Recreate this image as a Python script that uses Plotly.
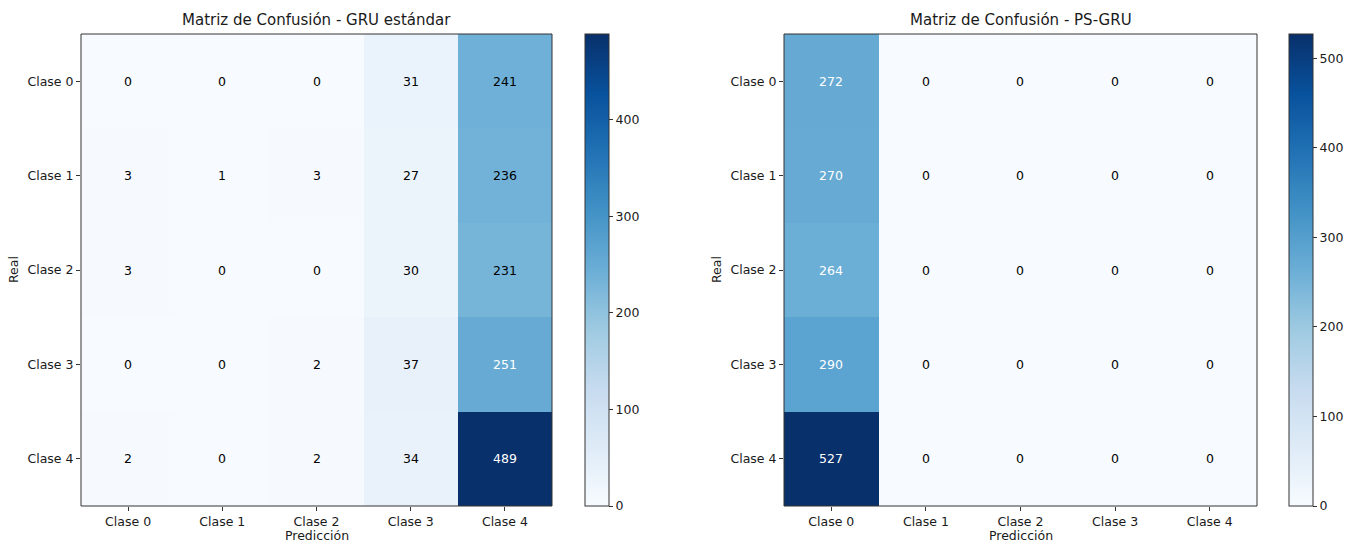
import plotly.graph_objects as go

# Class labels shared by both matrices
clases = ["Clase 0", "Clase 1", "Clase 2", "Clase 3", "Clase 4"]

# Confusion matrix: standard GRU (rows = real, cols = predicted)
cm_gru = [
    [0, 0, 0, 31, 241],
    [3, 1, 3, 27, 236],
    [3, 0, 0, 30, 231],
    [0, 0, 2, 37, 251],
    [2, 0, 2, 34, 489],
]

# Confusion matrix: PS-GRU
cm_psgru = [
    [272, 0, 0, 0, 0],
    [270, 0, 0, 0, 0],
    [264, 0, 0, 0, 0],
    [290, 0, 0, 0, 0],
    [527, 0, 0, 0, 0],
]

titulos = ["Matriz de Confusión - GRU estándar", "Matriz de Confusión - PS-GRU"]

W, H = 1360, 542
FONT = "DejaVu Sans"
TXT = "#1a1a1a"

# pixel geometry of each panel: (left, right) of heatmap, colorbar left
paneles = [
    dict(x0=81, x1=552, cb=585),
    dict(x0=784, x1=1257, cb=1289),
]
Y_TOP, Y_BOT = 34, 506

def px(x):
    return x / W

def py(y):
    return 1 - y / H

fig = go.Figure()
annotations = []
shapes = []

for i, (cm, titulo, p) in enumerate(zip([cm_gru, cm_psgru], titulos, paneles)):
    xa = "x" if i == 0 else "x2"
    ya = "y" if i == 0 else "y2"
    vmax = max(max(r) for r in cm)
    fig.add_trace(go.Heatmap(
        z=cm,
        x=list(range(len(clases))),
        y=list(range(len(clases))),
        xaxis=xa, yaxis=ya,
        colorscale="Blues", zmin=0, zmax=vmax,
        hoverinfo="skip",
        colorbar=dict(
            x=px(p["cb"]), xanchor="left", xpad=0,
            y=py(Y_TOP), yanchor="top", ypad=0,
            len=Y_BOT - Y_TOP, lenmode="pixels",
            thickness=24, thicknessmode="pixels",
            outlinewidth=1, outlinecolor="#333",
            tickmode="linear", tick0=0, dtick=100,
            ticks="outside", ticklen=4, tickcolor="#333",
            tickfont=dict(family=FONT, size=12.5, color=TXT),
        ),
    ))
    # cell value labels: white on dark cells, black on light cells
    umbral = vmax / 2
    for r, fila in enumerate(cm):
        for c, v in enumerate(fila):
            annotations.append(dict(
                x=c, y=r, xref=xa, yref=ya, text=str(v), showarrow=False,
                font=dict(family=FONT, size=12.5, color="white" if v > umbral else "black"),
            ))
    # panel title
    annotations.append(dict(
        x=px((p["x0"] + p["x1"]) / 2), y=py(20), xref="paper", yref="paper",
        text=titulo, showarrow=False, xanchor="center", yanchor="middle",
        font=dict(family=FONT, size=15, color=TXT),
    ))
    # axis titles
    annotations.append(dict(
        x=px((p["x0"] + p["x1"]) / 2), y=py(535), xref="paper", yref="paper",
        text="Predicción", showarrow=False, xanchor="center", yanchor="middle",
        font=dict(family=FONT, size=12.5, color=TXT),
    ))
    annotations.append(dict(
        x=px(p["x0"] - 68), y=py((Y_TOP + Y_BOT) / 2), xref="paper", yref="paper",
        text="Real", showarrow=False, textangle=-90, xanchor="center", yanchor="middle",
        font=dict(family=FONT, size=12.5, color=TXT),
    ))
    # frame around heatmap
    shapes.append(dict(
        type="rect", xref="paper", yref="paper",
        x0=px(p["x0"]), x1=px(p["x1"]), y0=py(Y_BOT), y1=py(Y_TOP),
        line=dict(color="#333", width=1),
    ))

    ax_common = dict(
        tickmode="array", tickvals=list(range(len(clases))), ticktext=clases,
        ticks="outside", ticklen=4, tickcolor="#333",
        tickfont=dict(family=FONT, size=12.5, color=TXT),
        showgrid=False, zeroline=False, showline=False,
    )
    fig.update_layout(**{
        ("xaxis" if i == 0 else "xaxis2"): dict(
            domain=[px(p["x0"]), px(p["x1"])], range=[-0.5, 4.5],
            anchor=ya, **ax_common),
        ("yaxis" if i == 0 else "yaxis2"): dict(
            domain=[py(Y_BOT), py(Y_TOP)], range=[4.5, -0.5],
            anchor=xa, **ax_common),
    })

fig.update_layout(
    width=W, height=H,
    margin=dict(l=0, r=0, t=0, b=0),
    paper_bgcolor="white", plot_bgcolor="white",
    annotations=annotations, shapes=shapes,
    showlegend=False,
)

fig.write_html("out.html")
